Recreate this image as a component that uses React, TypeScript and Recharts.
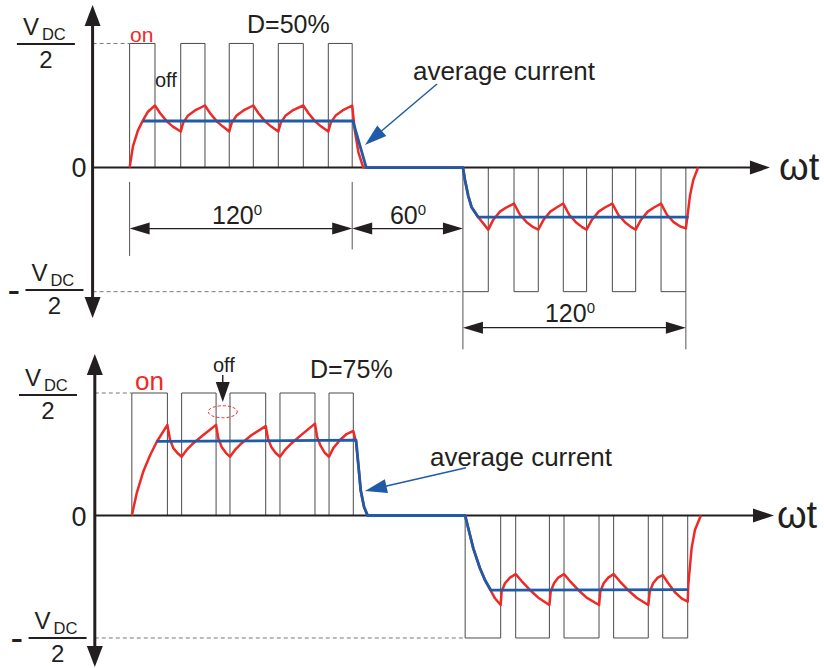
import React from 'react';
import { ComposedChart, Line, XAxis, YAxis, ReferenceArea, ReferenceLine, ReferenceDot } from 'recharts';

type Pt = [number, number];

// x in electrical degrees (wt), y in units of VDC/2

// upper panel, D = 50%
const topPulseOn = [20, 47.6, 73.8, 100.3, 127.3];
const topPulseOff = [33.7, 60.7, 86.8, 113.8, 140.2];
const topNegOn = [200, 227.6, 254.2, 280.7, 307];
const topNegOff = [213.7, 240.7, 266.8, 293.3, 320.4];

const topCurrent: Pt[] = [
  [20, 0], [21.8, 0.17], [24.5, 0.3], [27.2, 0.38], [29.9, 0.45], [33.7, 0.5],
  [36.4, 0.44], [40.2, 0.37], [43.4, 0.33], [47.6, 0.29],
  [48.9, 0.36], [51.6, 0.42], [55.3, 0.46], [60.7, 0.5],
  [63.4, 0.44], [67.2, 0.37], [70.4, 0.33], [73.8, 0.29],
  [75.1, 0.36], [77.8, 0.42], [81.5, 0.46], [86.8, 0.5],
  [89.5, 0.44], [93.3, 0.37], [96.5, 0.33], [100.3, 0.29],
  [101.6, 0.36], [104.3, 0.42], [108, 0.46], [113.8, 0.5],
  [116.5, 0.44], [120.3, 0.37], [123.5, 0.33], [127.3, 0.29],
  [128.6, 0.36], [131.3, 0.42], [135, 0.46], [140.2, 0.5],
  [141.6, 0.3], [143.6, 0.12], [146.2, 0],
  [200, 0], [201.1, -0.1], [202.9, -0.23], [204.7, -0.32], [208.3, -0.4], [213.7, -0.5],
  [216.4, -0.42], [220, -0.355], [223.6, -0.32], [227.6, -0.29],
  [230.8, -0.38], [234.4, -0.44], [238, -0.48], [240.7, -0.5],
  [243.6, -0.42], [247.2, -0.355], [250.8, -0.32], [254.2, -0.29],
  [257.4, -0.38], [261, -0.44], [264.4, -0.48], [266.8, -0.5],
  [269.7, -0.42], [273.3, -0.355], [276.9, -0.32], [280.7, -0.29],
  [283.9, -0.38], [287.5, -0.44], [290.9, -0.48], [293.3, -0.5],
  [296.2, -0.42], [299.8, -0.355], [303.4, -0.32], [307, -0.29],
  [310.2, -0.38], [313.8, -0.44], [317.4, -0.475], [320.4, -0.49],
  [321.2, -0.4], [322.6, -0.23], [324.4, -0.1], [327, 0],
];

const topAverage: Pt[] = [
  [27.2, 0.375], [140.6, 0.375], [147.8, 0], [200, 0],
  [201.1, -0.1], [202.9, -0.23], [204.7, -0.32], [208.3, -0.4], [321.9, -0.4],
];

// lower panel, D = 75%
const botPulseOn = [20, 46.9, 73, 100, 126.5];
const botPulseOff = [39.2, 65.5, 92.3, 118.9, 139.6];
const botNegOn = [200, 227.3, 253.4, 280.2, 306.7];
const botNegOff = [219.2, 245.5, 272.3, 298.9, 320.2];

const botCurrent: Pt[] = [
  [20, 0], [22.6, 0.18], [26.2, 0.36], [29.8, 0.49], [33.4, 0.6], [39.2, 0.74],
  [40.6, 0.62], [42.4, 0.55], [44.6, 0.51], [46.9, 0.48],
  [49.6, 0.535], [53.2, 0.59], [58.6, 0.657], [65.5, 0.74],
  [66.7, 0.63], [68.5, 0.56], [70.9, 0.51], [73, 0.48],
  [75.7, 0.535], [79.3, 0.59], [84.7, 0.657], [92.3, 0.73],
  [93.5, 0.63], [95.3, 0.56], [97.7, 0.51], [100, 0.48],
  [102.7, 0.535], [106.3, 0.59], [111.7, 0.66], [118.9, 0.75],
  [120.1, 0.64], [121.9, 0.57], [124.3, 0.51], [126.5, 0.48],
  [128.8, 0.55], [132.4, 0.616], [136, 0.665], [139.6, 0.69],
  [141.1, 0.6], [142.6, 0.37], [143.6, 0.2], [145.4, 0.07], [147.5, 0],
  [200, 0], [201.7, -0.104], [204.4, -0.268], [208, -0.431], [210.7, -0.527],
  [213.9, -0.616], [216.1, -0.676], [219.2, -0.731],
  [219.7, -0.622], [221.5, -0.553], [224.2, -0.507], [227.3, -0.479],
  [230.5, -0.535], [235, -0.608], [239.5, -0.671], [245.5, -0.731],
  [246.2, -0.622], [248, -0.553], [250.3, -0.507], [253.4, -0.479],
  [256.6, -0.535], [261.1, -0.608], [265.6, -0.671], [272.3, -0.731],
  [273, -0.622], [274.8, -0.553], [277.3, -0.507], [280.2, -0.479],
  [283.4, -0.535], [287.9, -0.608], [292.6, -0.671], [298.9, -0.731],
  [299.7, -0.622], [301.5, -0.553], [304, -0.507], [306.7, -0.486],
  [309.7, -0.553], [313.3, -0.627], [316.9, -0.676], [320.2, -0.704],
  [320.5, -0.567], [322.3, -0.268], [324.1, -0.118], [327.3, 0],
];

const botAverage: Pt[] = [
  [33.4, 0.605], [141.1, 0.615], [142.6, 0.371], [143.6, 0.208], [145.4, 0.072], [147.2, 0],
  [200, 0], [201.7, -0.104], [204.4, -0.268], [208, -0.431], [210.7, -0.527], [213.9, -0.61],
  [320.5, -0.605],
];

const INK = '#231f20';
const RED = '#ee2a27';
const BLUE = '#1f5ba8';
const RECT = '#4a4a4a';
const FONT = '"Liberation Sans", Arial, Helvetica, sans-serif';

const toXY = (pts: Pt[]) => pts.map(([x, y]) => ({ x, y }));

function arrow(o: { color?: string; width?: number; len?: number; half?: number; start?: boolean; end?: boolean }) {
  const { color = INK, width = 1.3, len = 20, half = 6, start = false, end = true } = o;
  return (p: any) => {
    const { x1, y1, x2, y2 } = p;
    const L = Math.hypot(x2 - x1, y2 - y1) || 1;
    const ux = (x2 - x1) / L;
    const uy = (y2 - y1) / L;
    const head = (tx: number, ty: number, dx: number, dy: number) => {
      const bx = tx - dx * len;
      const by = ty - dy * len;
      return `${tx},${ty} ${bx - dy * half},${by + dx * half} ${bx + dy * half},${by - dx * half}`;
    };
    const sx = start ? x1 + ux * len * 0.7 : x1;
    const sy = start ? y1 + uy * len * 0.7 : y1;
    const ex = end ? x2 - ux * len * 0.7 : x2;
    const ey = end ? y2 - uy * len * 0.7 : y2;
    return (
      <g>
        <line x1={sx} y1={sy} x2={ex} y2={ey} stroke={color} strokeWidth={width} />
        {start && <polygon points={head(x1, y1, -ux, -uy)} fill={color} />}
        {end && <polygon points={head(x2, y2, ux, uy)} fill={color} />}
      </g>
    );
  };
}

const txt = (s: React.ReactNode, size: number, color = INK, anchor: 'start' | 'middle' | 'end' = 'start') =>
  (p: any) => (
    <text x={p.cx} y={p.cy} fontSize={size} fill={color} fontFamily={FONT} textAnchor={anchor}>
      {s}
    </text>
  );

const fraction = (minus: boolean) => (p: any) => {
  const { cx, cy } = p;
  return (
    <g fill={INK} fontFamily={FONT}>
      {minus && <text x={cx - 47} y={cy + 13} fontSize={38}>-</text>}
      <text x={cx - 23} y={cy - 9} fontSize={24}>V</text>
      <text x={cx - 4} y={cy - 4} fontSize={16.5}>DC</text>
      <line x1={cx - 29} x2={cx + 29} y1={cy} y2={cy} stroke={INK} strokeWidth={2} />
      <text x={cx} y={cy + 24} fontSize={24} textAnchor="middle">2</text>
    </g>
  );
};

const deg = (n: string) => (
  <>
    {n}
    <tspan fontSize={15} dy={-9}>0</tspan>
  </>
);

const ellipse = (p: any) => (
  <ellipse cx={p.cx} cy={p.cy} rx={14.5} ry={6} fill="none" stroke={RED} strokeWidth={1} strokeDasharray="3 2" />
);

export default function App() {
  return (
    <div style={{ position: 'relative', width: 824, height: 668, background: '#fff', overflow: 'hidden' }}>
      <style>{'body{margin:0}'}</style>

      <div style={{ position: 'absolute', left: 0, top: 0 }}>
        <ComposedChart width={824} height={350} margin={{ top: 0, right: 0, bottom: 0, left: 0 }}>
          <XAxis type="number" dataKey="x" domain={[-50, 395]} hide allowDataOverflow />
          <YAxis type="number" domain={[-1.47, 1.35]} hide allowDataOverflow />

          {topPulseOn.map((s, i) => (
            <ReferenceArea key={`tp${i}`} x1={s} x2={topPulseOff[i]} y1={0} y2={1} fill="none" stroke={RECT} strokeWidth={1} />
          ))}
          {topNegOn.map((s, i) => (
            <ReferenceArea key={`tn${i}`} x1={s} x2={topNegOff[i]} y1={-1} y2={0} fill="none" stroke={RECT} strokeWidth={1} />
          ))}

          <ReferenceLine segment={[{ x: 0, y: 1 }, { x: 20, y: 1 }]} stroke="#777" strokeDasharray="4 3" />
          <ReferenceLine segment={[{ x: 0, y: -1 }, { x: 200, y: -1 }]} stroke="#777" strokeDasharray="4 3" />

          <ReferenceLine segment={[{ x: 20, y: -0.116 }, { x: 20, y: -0.712 }]} stroke="#555" strokeWidth={1} />
          <ReferenceLine segment={[{ x: 140.2, y: -0.116 }, { x: 140.2, y: -0.66 }]} stroke="#555" strokeWidth={1} />
          <ReferenceLine segment={[{ x: 200, y: -1 }, { x: 200, y: -1.465 }]} stroke="#555" strokeWidth={1} />
          <ReferenceLine segment={[{ x: 320.4, y: -1 }, { x: 320.4, y: -1.465 }]} stroke="#555" strokeWidth={1} />

          <ReferenceLine segment={[{ x: 0, y: 0 }, { x: 365.8, y: 0 }]} shape={arrow({ width: 2, len: 20, half: 7 })} />
          <ReferenceLine segment={[{ x: 0, y: -1.212 }, { x: 0, y: 1.31 }]} shape={arrow({ width: 3, len: 21, half: 8, start: true })} />

          <ReferenceLine segment={[{ x: 20, y: -0.492 }, { x: 140.2, y: -0.492 }]} shape={arrow({ start: true })} />
          <ReferenceLine segment={[{ x: 140.2, y: -0.492 }, { x: 200, y: -0.492 }]} shape={arrow({ start: true })} />
          <ReferenceLine segment={[{ x: 200, y: -1.29 }, { x: 320.4, y: -1.29 }]} shape={arrow({ start: true })} />

          <Line data={toXY(topCurrent)} dataKey="y" type="linear" dot={false} activeDot={false} stroke={RED} strokeWidth={2.5} strokeLinejoin="round" isAnimationActive={false} />
          <Line data={toXY(topAverage)} dataKey="y" type="linear" dot={false} activeDot={false} stroke={BLUE} strokeWidth={2.8} strokeLinejoin="round" isAnimationActive={false} />

          <ReferenceLine segment={[{ x: 186, y: 0.673 }, { x: 147.1, y: 0.182 }]} shape={arrow({ color: BLUE, width: 1.5, len: 22, half: 7 })} />

          <ReferenceDot x={-25.2} y={0.996} ifOverflow="visible" shape={fraction(false)} />
          <ReferenceDot x={-20.6} y={-0.986} ifOverflow="visible" shape={fraction(true)} />
          <ReferenceDot x={-7.35} y={-0.076} ifOverflow="visible" shape={txt('0', 27, INK, 'middle')} />
          <ReferenceDot x={20.2} y={1.012} ifOverflow="visible" shape={txt('on', 21, RED)} />
          <ReferenceDot x={33.7} y={0.649} ifOverflow="visible" shape={txt('off', 20)} />
          <ReferenceDot x={83.4} y={1.084} ifOverflow="visible" shape={txt('D=50%', 25)} />
          <ReferenceDot x={173} y={0.705} ifOverflow="visible" shape={txt('average current', 26)} />
          <ReferenceDot x={64.5} y={-0.455} ifOverflow="visible" shape={txt(deg('120'), 25)} />
          <ReferenceDot x={160.6} y={-0.455} ifOverflow="visible" shape={txt(deg('60'), 25)} />
          <ReferenceDot x={244.3} y={-1.244} ifOverflow="visible" shape={txt(deg('120'), 25)} />
          <ReferenceDot x={370.7} y={-0.1} ifOverflow="visible" shape={txt('ωt', 38)} />
        </ComposedChart>
      </div>

      <div style={{ position: 'absolute', left: 0, top: 345 }}>
        <ComposedChart width={824} height={323} margin={{ top: 0, right: 0, bottom: 0, left: 0 }}>
          <XAxis type="number" dataKey="x" domain={[-51.2, 393.8]} hide allowDataOverflow />
          <YAxis type="number" domain={[-1.245, 1.392]} hide allowDataOverflow />

          {botPulseOn.map((s, i) => (
            <ReferenceArea key={`bp${i}`} x1={s} x2={botPulseOff[i]} y1={0} y2={1} fill="none" stroke={RECT} strokeWidth={1} />
          ))}
          {botNegOn.map((s, i) => (
            <ReferenceArea key={`bn${i}`} x1={s} x2={botNegOff[i]} y1={-1} y2={0} fill="none" stroke={RECT} strokeWidth={1} />
          ))}

          <ReferenceLine segment={[{ x: 0, y: 1 }, { x: 20, y: 1 }]} stroke="#777" strokeDasharray="4 3" />
          <ReferenceLine segment={[{ x: 0, y: -1 }, { x: 200, y: -1 }]} stroke="#777" strokeDasharray="4 3" />

          <ReferenceLine segment={[{ x: 0, y: 0 }, { x: 366.8, y: 0 }]} shape={arrow({ width: 2, len: 21, half: 7 })} />
          <ReferenceLine segment={[{ x: 0, y: -1.237 }, { x: 0, y: 1.318 }]} shape={arrow({ width: 3, len: 21, half: 8, start: true })} />

          <Line data={toXY(botCurrent)} dataKey="y" type="linear" dot={false} activeDot={false} stroke={RED} strokeWidth={2.5} strokeLinejoin="round" isAnimationActive={false} />
          <Line data={toXY(botAverage)} dataKey="y" type="linear" dot={false} activeDot={false} stroke={BLUE} strokeWidth={2.8} strokeLinejoin="round" isAnimationActive={false} />

          <ReferenceLine segment={[{ x: 200.5, y: 0.39 }, { x: 145.9, y: 0.2 }]} shape={arrow({ color: BLUE, width: 1.5, len: 22, half: 7 })} />
          <ReferenceLine segment={[{ x: 69.1, y: 1.147 }, { x: 69.1, y: 0.927 }]} shape={arrow({ width: 1.4, len: 20, half: 7 })} />
          <ReferenceDot x={69.1} y={0.847} ifOverflow="visible" shape={ellipse} />

          <ReferenceDot x={-25.3} y={0.984} ifOverflow="visible" shape={fraction(false)} />
          <ReferenceDot x={-20.1} y={-1} ifOverflow="visible" shape={fraction(true)} />
          <ReferenceDot x={-8.5} y={-0.086} ifOverflow="visible" shape={txt('0', 27, INK, 'middle')} />
          <ReferenceDot x={21.7} y={1.025} ifOverflow="visible" shape={txt('on', 26, RED)} />
          <ReferenceDot x={63.8} y={1.171} ifOverflow="visible" shape={txt('off', 20)} />
          <ReferenceDot x={116.2} y={1.122} ifOverflow="visible" shape={txt('D=75%', 25)} />
          <ReferenceDot x={181} y={0.404} ifOverflow="visible" shape={txt('average current', 26)} />
          <ReferenceDot x={368.4} y={-0.102} ifOverflow="visible" shape={txt('ωt', 38)} />
        </ComposedChart>
      </div>
    </div>
  );
}
